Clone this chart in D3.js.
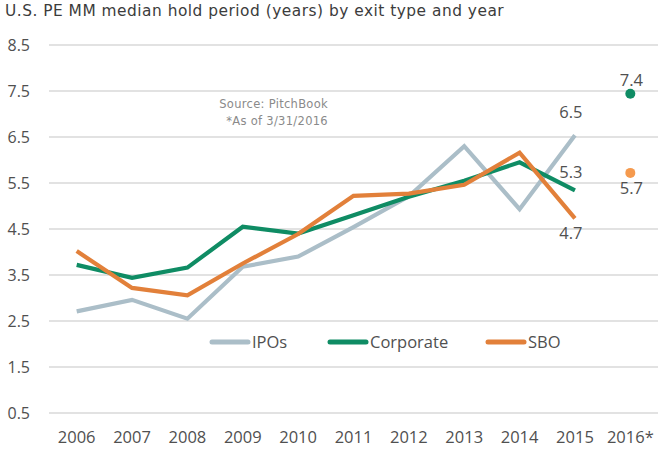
<!DOCTYPE html>
<html>
<head>
<meta charset="utf-8">
<script src="https://cdn.jsdelivr.net/npm/d3@7"></script>
<style>
  body { margin: 0; background: #fff; }
  svg { display: block; }
</style>
</head>
<body>
<div id="chart"></div>
<script>
// Data
const YEARS = ["2006", "2007", "2008", "2009", "2010", "2011", "2012", "2013", "2014", "2015", "2016*"];
const IPOS = [2.71, 2.96, 2.55, 3.68, 3.90, 4.54, 5.21, 6.30, 4.93, 6.54, null];
const CORPORATE = [3.72, 3.44, 3.66, 4.55, 4.40, 4.80, 5.20, 5.55, 5.95, 5.34, 7.44];
const SBO = [4.02, 3.22, 3.06, 3.75, 4.39, 5.22, 5.27, 5.46, 6.16, 4.73, 5.72];
const Y_TICKS = [0.5, 1.5, 2.5, 3.5, 4.5, 5.5, 6.5, 7.5, 8.5];

const TITLE = "U.S. PE MM median hold period (years) by exit type and year";
const NOTES = ["Source: PitchBook", "*As of 3/31/2016"];

const COLORS = {
  ipos: "#abbec8",
  corporate: "#0f8c64",
  sbo: "#e2803a",
  sboDot: "#f59a4e",
  grid: "#d9d9d9",
  text: "#505050",
  title: "#3c3c3c",
  note: "#8a8a8a",
};

const WIDTH = 665, HEIGHT = 451;
const LABEL_FONT = "'Open Sans', 'Noto Sans', sans-serif";
const TITLE_FONT = "'DejaVu Sans', sans-serif";

const series = [
  { name: "IPOs", values: IPOS, color: COLORS.ipos, dotColor: COLORS.ipos, legendX: 210 },
  { name: "Corporate", values: CORPORATE, color: COLORS.corporate, dotColor: COLORS.corporate, legendX: 328 },
  { name: "SBO", values: SBO, color: COLORS.sbo, dotColor: COLORS.sboDot, legendX: 486 },
];

const x = d3.scaleBand().domain(YEARS).range([49, 658]);
const y = d3.scaleLinear().domain([0.5, 8.5]).range([413, 45]);
const cx = (year) => x(year) + x.bandwidth() / 2;
const fmt = d3.format(".1f");

const svg = d3.select("#chart")
  .append("svg")
  .attr("width", WIDTH)
  .attr("height", HEIGHT);

// Title
svg.append("text")
  .attr("x", 5)
  .attr("y", 16)
  .attr("font-family", TITLE_FONT)
  .attr("font-size", 15.4)
  .attr("letter-spacing", 0.5)
  .attr("fill", COLORS.title)
  .text(TITLE);

// Gridlines
svg.append("g")
  .selectAll("line")
  .data(Y_TICKS)
  .join("line")
  .attr("x1", 49)
  .attr("x2", 658)
  .attr("y1", (d) => y(d))
  .attr("y2", (d) => y(d))
  .attr("stroke", COLORS.grid)
  .attr("stroke-width", 1.6);

// Y axis labels
svg.append("g")
  .selectAll("text")
  .data(Y_TICKS)
  .join("text")
  .attr("x", 30)
  .attr("y", (d) => y(d))
  .attr("dy", "0.35em")
  .attr("text-anchor", "end")
  .attr("font-family", LABEL_FONT)
  .attr("font-size", 16)
  .attr("fill", COLORS.text)
  .text((d) => fmt(d));

// X axis labels
svg.append("g")
  .selectAll("text")
  .data(YEARS)
  .join("text")
  .attr("x", (d) => cx(d))
  .attr("y", 443)
  .attr("text-anchor", "middle")
  .attr("font-family", LABEL_FONT)
  .attr("font-size", 16.5)
  .attr("fill", COLORS.text)
  .text((d) => d);

// Notes
svg.append("g")
  .selectAll("text")
  .data(NOTES)
  .join("text")
  .attr("x", 328)
  .attr("y", (d, i) => 108 + i * 17)
  .attr("text-anchor", "end")
  .attr("font-family", TITLE_FONT)
  .attr("font-size", 11.5)
  .attr("letter-spacing", 0.3)
  .attr("fill", COLORS.note)
  .text((d) => d);

// Lines: 2006-2015 connected, 2016* shown as a lone dot
const lineGen = d3.line()
  .defined((d) => d.value != null && d.year !== "2016*")
  .x((d) => cx(d.year))
  .y((d) => y(d.value));

series.forEach((s) => {
  const pts = YEARS.map((year, i) => ({ year, value: s.values[i] }));
  svg.append("path")
    .datum(pts)
    .attr("fill", "none")
    .attr("stroke", s.color)
    .attr("stroke-width", 4.2)
    .attr("stroke-linejoin", "miter")
    .attr("d", lineGen);

  const last = pts[pts.length - 1];
  if (last.value != null) {
    svg.append("circle")
      .attr("cx", cx(last.year))
      .attr("cy", y(last.value))
      .attr("r", 5)
      .attr("fill", s.dotColor);
  }
});

// Data labels
const LABELS = [
  { year: "2015", value: IPOS[9], dy: -23 },
  { year: "2015", value: CORPORATE[9], dy: -18 },
  { year: "2015", value: SBO[9], dy: 15 },
  { year: "2016*", value: CORPORATE[10], dy: -14 },
  { year: "2016*", value: SBO[10], dy: 15 },
];
svg.append("g")
  .selectAll("text")
  .data(LABELS)
  .join("text")
  .attr("x", (d) => cx(d.year) + (d.year === "2015" ? -4 : 1))
  .attr("y", (d) => y(d.value) + d.dy)
  .attr("dy", "0.35em")
  .attr("text-anchor", "middle")
  .attr("font-family", LABEL_FONT)
  .attr("font-size", 16.5)
  .attr("fill", COLORS.text)
  .text((d) => fmt(d.value));

// Legend
const legend = svg.append("g")
  .selectAll("g")
  .data(series)
  .join("g")
  .attr("transform", (d) => `translate(${d.legendX},342)`);
legend.append("line")
  .attr("x1", 2)
  .attr("x2", 38)
  .attr("stroke", (d) => d.color)
  .attr("stroke-width", 5)
  .attr("stroke-linecap", "round");
legend.append("text")
  .attr("x", 42)
  .attr("dy", "0.35em")
  .attr("font-family", LABEL_FONT)
  .attr("font-size", 16.5)
  .attr("fill", COLORS.text)
  .text((d) => d.name);
</script>
</body>
</html>
